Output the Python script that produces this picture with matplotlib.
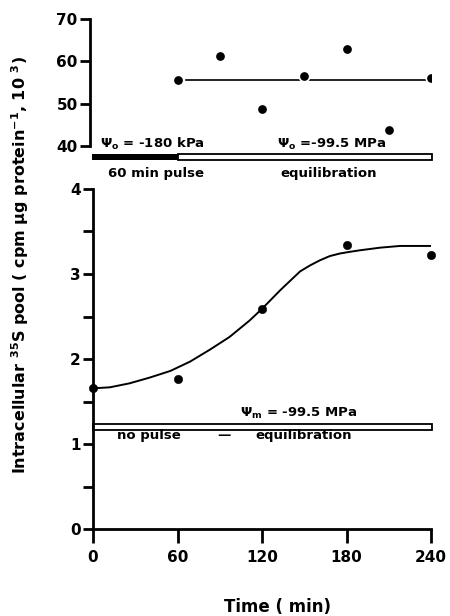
import matplotlib.pyplot as plt
from matplotlib.ticker import MultipleLocator

plt.rcParams['font.family'] = ['DejaVu Sans']
plt.rcParams['font.weight'] = 'bold'
plt.rcParams['mathtext.default'] = 'bf'

# top panel: pulse at -180 kPa then equilibration at -99.5 MPa (x 10^3)
top_t = [60, 90, 120, 150, 180, 210, 240]
top_v = [55.7, 61.2, 48.7, 56.6, 62.9, 43.8, 56.1]
top_mean = 55.7
top_line_t = [66, 240]

# bottom panel: no pulse, equilibration at -99.5 MPa
bot_t = [0, 60, 120, 180, 240]
bot_v = [1.655, 1.77, 2.59, 3.34, 3.22]
curve_t = [0, 12, 26, 40, 55, 69, 83, 97, 111, 120, 133, 140, 147, 154, 161, 168,
           175, 182, 190, 204, 218, 240]
curve_v = [1.655, 1.667, 1.714, 1.78, 1.86, 1.97, 2.11, 2.26, 2.45, 2.59, 2.81, 2.92,
           3.03, 3.10, 3.16, 3.21, 3.24, 3.26, 3.28, 3.31, 3.33, 3.33]

xticks = [0, 60, 120, 180, 240]

W, H = 450, 616
fig = plt.figure(figsize=(4.5, 6.16), dpi=100)

def px_axes(x0, x1, y0, y1):
    # y0 = top pixel, y1 = bottom pixel
    return fig.add_axes([x0 / W, 1 - y1 / H, (x1 - x0) / W, (y1 - y0) / H])

lw = 2.0
fs = 9.5

# ---- top panel ----
ax1 = px_axes(93, 431, 14.8, 184.1)
ax1.set_xlim(0, 240)
ax1.set_ylim(31, 71)
ax1.plot(top_line_t, [top_mean, top_mean], color='black', lw=1.2)
ax1.plot(top_t, top_v, 'o', ms=7.5, color='black', mec='white', mew=1.2, zorder=5)
ax1.barh(37.4, 61, left=-0.7, height=1.4, color='black', zorder=3, clip_on=False)
ax1.barh(37.4, 180.8, left=60, height=1.4, facecolor='white', edgecolor='black',
         lw=1.3, zorder=2, clip_on=False)
for s in ['top', 'right', 'bottom']:
    ax1.spines[s].set_visible(False)
ax1.spines['left'].set_bounds(40, 70)
ax1.spines['left'].set_linewidth(lw)
ax1.spines['left'].set_position(('outward', 2))
ax1.set_yticks([40, 50, 60, 70])
ax1.set_xticks([])
ax1.tick_params(axis='y', length=7, width=lw, labelsize=11, pad=2)
ax1.text(5, 38.6, r'$\Psi_o$ = -180 kPa', fontsize=fs, fontweight='bold', va='bottom')
ax1.text(131, 38.6, r'$\Psi_o$ =-99.5 MPa', fontsize=fs, fontweight='bold', va='bottom')
ax1.text(45, 33.6, '60 min pulse', fontsize=fs, fontweight='bold', ha='center', va='center')
ax1.text(167, 33.6, 'equilibration', fontsize=fs, fontweight='bold', ha='center', va='center')

# ---- bottom panel ----
ax2 = px_axes(93, 431, 189, 529)
ax2.set_xlim(0, 240)
ax2.set_ylim(0, 4)
ax2.plot(curve_t, curve_v, color='black', lw=1.4, solid_joinstyle='round')
ax2.plot(bot_t, bot_v, 'o', ms=6, mew=0.4, color='black', zorder=5, clip_on=False)
ax2.barh(1.2, 240.8, left=0, height=0.07, facecolor='white', edgecolor='black',
         lw=1.3, clip_on=False)
for s in ['top', 'right']:
    ax2.spines[s].set_visible(False)
for s in ['left', 'bottom']:
    ax2.spines[s].set_linewidth(lw)
ax2.set_xticks(xticks)
ax2.yaxis.set_major_locator(MultipleLocator(1))
ax2.yaxis.set_minor_locator(MultipleLocator(0.5))
ax2.tick_params(axis='x', length=10, width=lw, labelsize=11, pad=5)
ax2.tick_params(axis='y', which='both', length=7, width=lw, labelsize=11, pad=2)
ax2.text(146, 1.27, r'$\Psi_m$ = -99.5 MPa', fontsize=fs, fontweight='bold',
         ha='center', va='bottom')
ax2.text(17, 1.1, 'no pulse', fontsize=fs, fontweight='bold', va='center')
ax2.text(93, 1.1, '\u2014', fontsize=fs, fontweight='bold', ha='center', va='center')
ax2.text(149.5, 1.1, 'equilibration', fontsize=fs, fontweight='bold', ha='center', va='center')

fig.text(277 / W, 1 - 607 / H, 'Time ( min)', fontsize=12, fontweight='bold',
         ha='center', va='center')
fig.text(20 / W, 1 - 265 / H,
         'Intracellular $^{35}$S pool ( cpm \u03bcg protein$^{-1}$, 10 $^{3}$)',
         fontsize=11.5, fontweight='bold', rotation=90, ha='center', va='center')

fig.savefig('out.png', dpi=100)
